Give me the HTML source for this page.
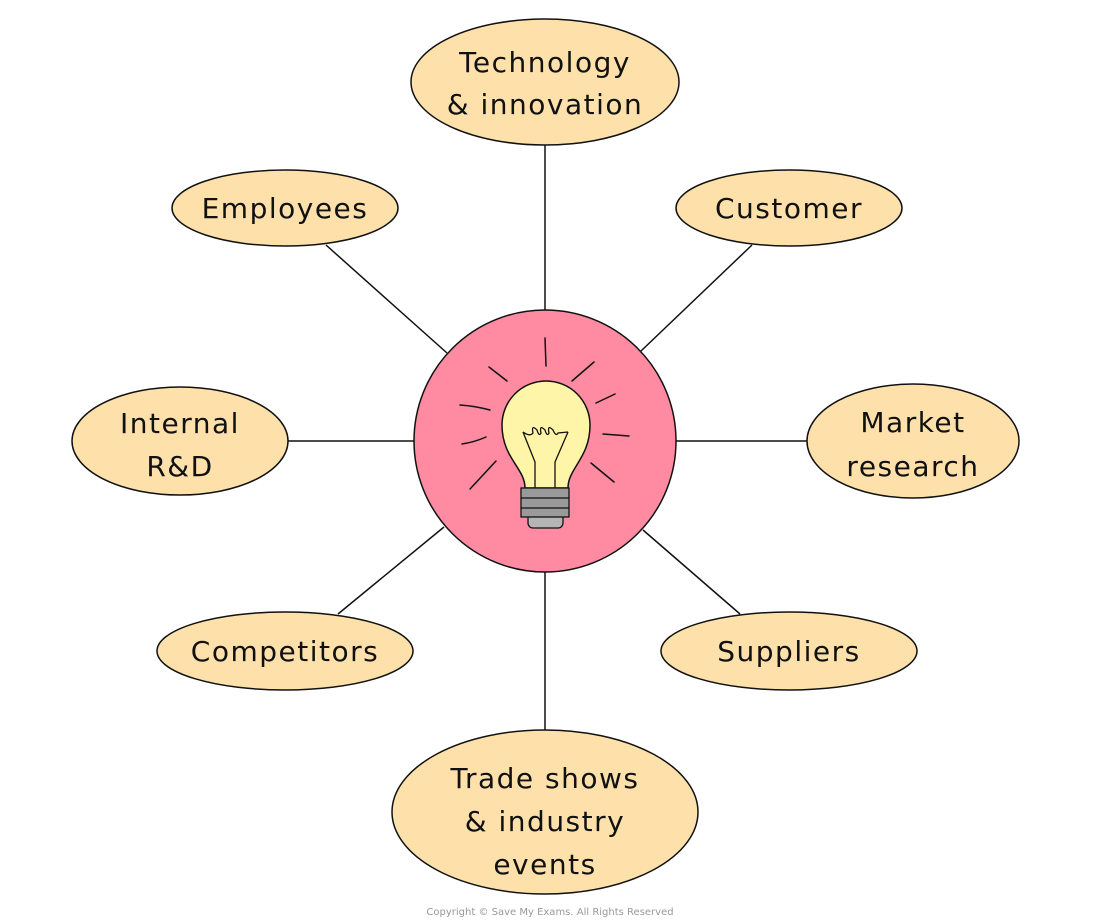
<!DOCTYPE html>
<html><head><meta charset="utf-8"><style>
html,body{margin:0;padding:0;background:#fff;}
svg{display:block}
text{font-family:"DejaVu Sans","Liberation Sans",sans-serif;font-size:28px;fill:#111;text-anchor:middle;letter-spacing:1.5px}
</style></head><body>
<svg width="1100" height="923" viewBox="0 0 1100 923" xmlns="http://www.w3.org/2000/svg">
<g stroke="#111" stroke-width="1.5">
<line x1="545" y1="145" x2="545" y2="310"/>
<line x1="326" y1="245" x2="447" y2="353"/>
<line x1="752" y1="245" x2="641" y2="351"/>
<line x1="288" y1="441" x2="414" y2="441"/>
<line x1="676" y1="441" x2="807" y2="441"/>
<line x1="338" y1="614" x2="444" y2="527"/>
<line x1="740" y1="614" x2="643" y2="530"/>
<line x1="545" y1="572" x2="545" y2="730"/>
</g>
<g fill="#fde0aa" stroke="#111" stroke-width="1.5">
<ellipse cx="545" cy="82" rx="134" ry="63"/>
<ellipse cx="285" cy="208" rx="113" ry="38"/>
<ellipse cx="789" cy="208" rx="113" ry="38"/>
<ellipse cx="180" cy="441" rx="108" ry="54"/>
<ellipse cx="913" cy="441" rx="106" ry="57"/>
<ellipse cx="285" cy="651" rx="128" ry="39"/>
<ellipse cx="789" cy="651" rx="128" ry="39"/>
<ellipse cx="545" cy="812" rx="153" ry="82"/>
</g>
<circle cx="545" cy="441" r="131" fill="#fe8ba2" stroke="#111" stroke-width="1.5"/>
<g stroke="#111" stroke-width="1.5" fill="none" stroke-linecap="round">
<line x1="545" y1="338" x2="546" y2="366"/>
<line x1="489" y1="367" x2="507" y2="381"/>
<line x1="572" y1="381" x2="594" y2="362"/>
<path d="M460 405 Q475 406 490 410"/>
<line x1="596" y1="403" x2="615" y2="394"/>
<path d="M462 444 Q475 442 486 437"/>
<line x1="603" y1="434" x2="629" y2="436"/>
<line x1="470" y1="489" x2="496" y2="461"/>
<line x1="591" y1="463" x2="614" y2="482"/>
</g>
<path d="M525 488 C525 468 502 458 502 425 A44 44 0 1 1 590 425 C590 458 568 468 568 488 Z" fill="#fff5a8" stroke="#111" stroke-width="1.5"/>
<g stroke="#111" stroke-width="1.3" fill="none">
<path d="M535 488 L535 462 L523 432"/>
<path d="M555 488 L555 462 L568 432"/>
<path d="M523 432 Q530 437 533 433 Q531 424 537 430 Q539 437 541 433 Q539 424 545 430 Q547 437 549 433 Q547 424 553 430 Q556 437 558 433 L568 432"/>
</g>
<rect x="528" y="512" width="35" height="16" rx="5" fill="#b5b5b5" stroke="#111" stroke-width="1.3"/>
<rect x="521" y="488" width="48" height="29" fill="#9a9a9a" stroke="#111" stroke-width="1.3"/>
<line x1="521" y1="498" x2="569" y2="498" stroke="#111" stroke-width="1.3"/>
<line x1="521" y1="508" x2="569" y2="508" stroke="#111" stroke-width="1.3"/>
<text x="545" y="72">Technology</text>
<text x="545" y="114">&amp; innovation</text>
<text x="285" y="218">Employees</text>
<text x="789" y="218">Customer</text>
<text x="180" y="433">Internal</text>
<text x="180" y="476">R&amp;D</text>
<text x="913" y="432">Market</text>
<text x="913" y="476">research</text>
<text x="285" y="661">Competitors</text>
<text x="789" y="661">Suppliers</text>
<text x="545" y="788">Trade shows</text>
<text x="545" y="831">&amp; industry</text>
<text x="545" y="874">events</text>
<text x="550" y="915" style="font-size:10px;fill:#999;letter-spacing:0">Copyright © Save My Exams. All Rights Reserved</text>
</svg>
</body></html>
